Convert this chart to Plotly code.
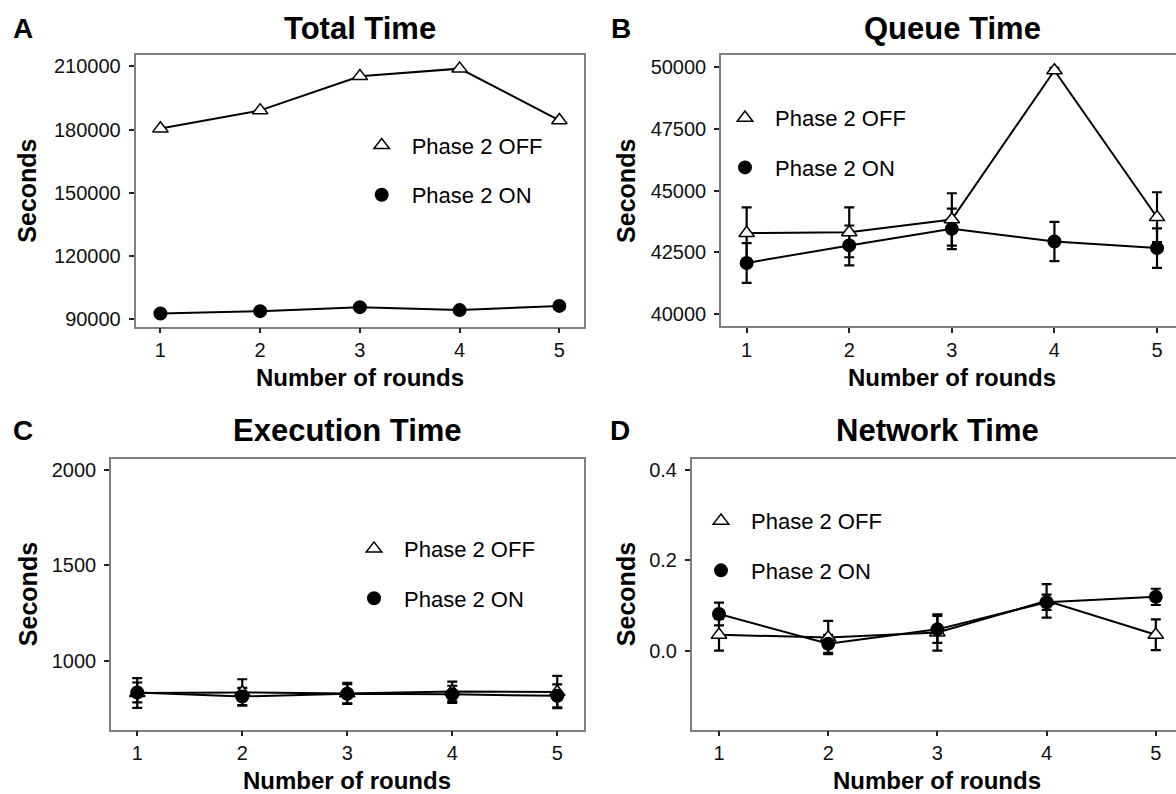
import plotly.graph_objects as go

W, H = 1176, 794
FONT = "Liberation Sans, Arial, Helvetica, sans-serif"

rounds = [1, 2, 3, 4, 5]
series_names = ["Phase 2 OFF", "Phase 2 ON"]

# Panel A: Total Time
total_off = [180500, 189100, 205300, 208900, 184400]
total_on = [92800, 93900, 95800, 94400, 96400]

# Panel B: Queue Time
queue_off = [43280, 43310, 43830, 49860, 43920]
queue_off_err = [1040, 1010, 1060, 100, 1010]
queue_on = [42070, 42780, 43450, 42940, 42670]
queue_on_err = [805, 805, 820, 795, 800]

# Panel C: Execution Time
exec_off = [830, 833, 828, 838, 835]
exec_off_err = [78, 69, 55, 52, 85]
exec_on = [833, 812, 826, 823, 815]
exec_on_err = [52, 45, 50, 45, 60]

# Panel D: Network Time
net_off = [0.035, 0.029, 0.040, 0.110, 0.035]
net_off_err = [0.035, 0.037, 0.040, 0.037, 0.034]
net_on = [0.081, 0.015, 0.047, 0.107, 0.119]
net_on_err = [0.025, 0.020, 0.030, 0.017, 0.018]

titles = ["Total Time", "Queue Time", "Execution Time", "Network Time"]
letters = ["A", "B", "C", "D"]
ytick_A = [90000, 120000, 150000, 180000, 210000]
ytick_B = [40000, 42500, 45000, 47500, 50000]
ytick_C = [1000, 1500, 2000]
ytick_D = [0.0, 0.2, 0.4]

panels = [
    dict(off=total_off, on=total_on, off_err=None, on_err=None,
         px=(135.5, 584.3), py=(55, 328.3), xr=[0.75, 5.25], yr=[86560, 215500],
         ticks=ytick_A, fmt="d", leg=(381.7, 143), title_x=360, title_y=29,
         letter_x=23, ytitle_x=27, mirror_y=True),
    dict(off=queue_off, on=queue_on, off_err=queue_off_err, on_err=queue_on_err,
         px=(721, 1176), py=(55.7, 328), xr=[0.75, 5.185], yr=[39505, 50467],
         ticks=ytick_B, fmt="d", leg=(745, 115.5), title_x=952, title_y=29,
         letter_x=621, ytitle_x=626, mirror_y=False),
    dict(off=exec_off, on=exec_on, off_err=exec_off_err, on_err=exec_on_err,
         px=(111, 583.5), py=(461, 733.3), xr=[0.75, 5.25], yr=[638, 2059],
         ticks=ytick_C, fmt="d", leg=(374, 548.5), title_x=347, title_y=433,
         letter_x=23, ytitle_x=28, mirror_y=True),
    dict(off=net_off, on=net_on, off_err=net_off_err, on_err=net_on_err,
         px=(691.7, 1176), py=(461, 733.3), xr=[0.75, 5.185], yr=[-0.175, 0.425],
         ticks=ytick_D, fmt=".1f", leg=(721, 520.5), title_x=937, title_y=433,
         letter_x=620, ytitle_x=626, mirror_y=False),
]

fig = go.Figure()
annotations = []
layout = {}

for i, p in enumerate(panels):
    n = "" if i == 0 else str(i + 1)
    xa, ya = "x" + n, "y" + n
    legname = "legend" + n
    for name, vals, err in [
        (series_names[0], p["off"], p["off_err"]),
        (series_names[1], p["on"], p["on_err"]),
    ]:
        tr = dict(x=rounds, y=vals, mode="lines", xaxis=xa, yaxis=ya,
                  line=dict(color="black", width=2), showlegend=False,
                  hoverinfo="skip")
        if err is not None:
            tr["error_y"] = dict(type="data", array=err, visible=True,
                                 color="black", thickness=2.2, width=5)
        fig.add_trace(go.Scatter(**tr))
    for name, vals, sym, fill, size in [
        (series_names[0], p["off"], "triangle-up", "white", 13.5),
        (series_names[1], p["on"], "circle", "black", 12.5),
    ]:
        fig.add_trace(go.Scatter(
            x=rounds, y=vals, mode="markers", xaxis=xa, yaxis=ya, name=name,
            legend=legname, legendgroup=name + n,
            marker=dict(symbol=sym, size=size, color=fill,
                        line=dict(color="black", width=1.5)),
        ))

    x0, x1 = p["px"]
    y0, y1 = p["py"]
    axis_common = dict(showgrid=False, zeroline=False, showline=True,
                       linecolor="#808080", linewidth=1.5,
                       ticks="outside", ticklen=5, tickwidth=2,
                       tickcolor="#222222",
                       tickfont=dict(family=FONT, size=20, color="#111111"))
    layout["xaxis" + n] = dict(axis_common, domain=[x0 / W, x1 / W],
                               range=p["xr"], anchor=ya, mirror=True,
                               ticklabelstandoff=0,
                               tickmode="array", tickvals=rounds,
                               ticktext=[str(r) for r in rounds])
    layout["yaxis" + n] = dict(axis_common, domain=[1 - y1 / H, 1 - y0 / H],
                               range=p["yr"], anchor=xa, mirror=p["mirror_y"],
                               ticklabelstandoff=4,
                               tickmode="array", tickvals=p["ticks"],
                               tickformat=p["fmt"])
    lx, ly = p["leg"]
    layout[legname] = dict(x=(lx - 30) / W, y=1 - (ly - 18) / H,
                           xanchor="left", yanchor="top",
                           bgcolor="rgba(0,0,0,0)", borderwidth=0,
                           itemwidth=50, tracegroupgap=18,
                           traceorder="grouped",
                           font=dict(family=FONT, size=22, color="black"))

    annotations.append(dict(text="<b>" + titles[i] + "</b>", x=p["title_x"] / W,
                            y=1 - p["title_y"] / H, xref="paper", yref="paper",
                            xanchor="center", yanchor="middle", showarrow=False,
                            font=dict(family=FONT, size=31, color="black")))
    annotations.append(dict(text="<b>" + letters[i] + "</b>", x=p["letter_x"] / W,
                            y=1 - p["title_y"] / H, xref="paper", yref="paper",
                            xanchor="center", yanchor="middle", showarrow=False,
                            font=dict(family=FONT, size=28, color="black")))
    xt_y = 379 if i < 2 else 784
    full_right = x0 + (x1 - x0) * 4.5 / (p["xr"][1] - p["xr"][0])
    xcenter = (x0 + full_right) / 2
    annotations.append(dict(text="<b>Number of rounds</b>", x=xcenter / W,
                            y=1 - xt_y / H, xref="paper", yref="paper",
                            xanchor="center", yanchor="middle", showarrow=False,
                            font=dict(family=FONT, size=24, color="black")))
    annotations.append(dict(text="<b>Seconds</b>", x=p["ytitle_x"] / W,
                            y=1 - (y0 + y1) / 2 / H, xref="paper", yref="paper",
                            xanchor="center", yanchor="middle", showarrow=False,
                            textangle=-90,
                            font=dict(family=FONT, size=25, color="black")))

fig.update_layout(width=W, height=H, margin=dict(l=0, r=0, t=0, b=0),
                  paper_bgcolor="white", plot_bgcolor="white",
                  annotations=annotations, showlegend=True, **layout)

fig.write_html("out.html")
